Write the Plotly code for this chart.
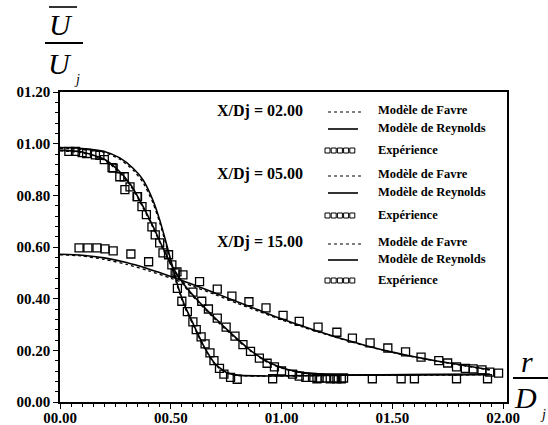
import plotly.graph_objects as go

# ---------------- data ----------------
x_tickvals = [0.0, 0.5, 1.0, 1.5, 2.0]
x_ticktext = ["00.00", "00.50", "01.00", "01.50", "02.00"]
y_tickvals = [0.0, 0.2, 0.4, 0.6, 0.8, 1.0, 1.2]
y_ticktext = ["00.00", "00.20", "00.40", "00.60", "00.80", "01.00", "01.20"]

# X/Dj = 2
rey2_r = [0, 0.1, 0.2, 0.27, 0.33, 0.375, 0.42, 0.45, 0.475, 0.5, 0.53, 0.56, 0.6, 0.65, 0.7, 0.75, 0.8, 0.9, 1.0, 1.3, 1.6, 1.94]
rey2_v = [0.985, 0.981, 0.97, 0.945, 0.905, 0.86, 0.78, 0.705, 0.63, 0.55, 0.455, 0.38, 0.305, 0.215, 0.148, 0.115, 0.104, 0.101, 0.101, 0.104, 0.106, 0.107]
fav2_r = [0, 0.1, 0.2, 0.27, 0.33, 0.375, 0.42, 0.45, 0.475, 0.5, 0.53, 0.56, 0.6, 0.65, 0.7, 0.75, 0.8, 0.9, 1.0, 1.3, 1.6, 1.94]
fav2_v = [0.982, 0.978, 0.966, 0.94, 0.898, 0.85, 0.77, 0.695, 0.62, 0.54, 0.448, 0.372, 0.3, 0.21, 0.145, 0.113, 0.103, 0.1, 0.1, 0.103, 0.105, 0.106]
exp2_r = [0.07, 0.12, 0.18, 0.24, 0.29, 0.35, 0.39, 0.43, 0.465, 0.49, 0.53, 0.55, 0.575, 0.60, 0.615, 0.637, 0.655, 0.677, 0.695, 0.72, 0.74, 0.77, 0.80, 0.96, 1.16, 1.22, 1.25, 1.27, 1.41, 1.54, 1.60, 1.79, 1.93]
exp2_v = [0.97, 0.962, 0.955, 0.905, 0.872, 0.795, 0.725, 0.647, 0.577, 0.57, 0.44, 0.39, 0.35, 0.31, 0.28, 0.252, 0.225, 0.19, 0.16, 0.13, 0.108, 0.095, 0.088, 0.09, 0.09, 0.09, 0.09, 0.09, 0.09, 0.09, 0.09, 0.09, 0.09]

# X/Dj = 5
rey5_r = [0, 0.1, 0.2, 0.26, 0.32, 0.37, 0.42, 0.46, 0.51, 0.56, 0.62, 0.7, 0.78, 0.86, 0.94, 1.02, 1.12, 1.25, 1.5, 1.94]
rey5_v = [0.975, 0.968, 0.94, 0.9, 0.84, 0.765, 0.68, 0.605, 0.52, 0.455, 0.395, 0.325, 0.26, 0.2, 0.155, 0.128, 0.112, 0.105, 0.105, 0.107]
fav5_r = [0, 0.1, 0.2, 0.26, 0.32, 0.37, 0.42, 0.46, 0.51, 0.56, 0.62, 0.7, 0.78, 0.86, 0.94, 1.02, 1.12, 1.25, 1.5, 1.94]
fav5_v = [0.972, 0.965, 0.936, 0.895, 0.835, 0.76, 0.675, 0.6, 0.515, 0.45, 0.39, 0.32, 0.255, 0.197, 0.152, 0.126, 0.11, 0.104, 0.104, 0.106]
exp5_r = [0.04, 0.10, 0.16, 0.20, 0.235, 0.27, 0.293, 0.316, 0.348, 0.37, 0.415, 0.45, 0.505, 0.528, 0.555, 0.60, 0.64, 0.67, 0.71, 0.75, 0.79, 0.826, 0.86, 0.9, 0.935, 0.968, 1.0, 1.05, 1.08, 1.11, 1.14, 1.17, 1.20, 1.24, 1.28]
exp5_v = [0.97, 0.965, 0.957, 0.938, 0.907, 0.872, 0.822, 0.833, 0.795, 0.756, 0.678, 0.616, 0.531, 0.504, 0.492, 0.425, 0.39, 0.36, 0.325, 0.29, 0.255, 0.222, 0.196, 0.17, 0.15, 0.136, 0.12, 0.108, 0.10, 0.095, 0.095, 0.093, 0.093, 0.093, 0.093]

# X/Dj = 15
rey15_r = [0, 0.1, 0.2, 0.3, 0.4, 0.5, 0.6, 0.7, 0.8, 0.9, 1.0, 1.1, 1.2, 1.3, 1.4, 1.5, 1.6, 1.7, 1.8, 1.94]
rey15_v = [0.572, 0.568, 0.558, 0.54, 0.515, 0.486, 0.455, 0.422, 0.388, 0.355, 0.322, 0.292, 0.264, 0.238, 0.214, 0.193, 0.175, 0.159, 0.145, 0.125]
fav15_r = [0, 0.1, 0.2, 0.3, 0.4, 0.5, 0.6, 0.7, 0.8, 0.9, 1.0, 1.1, 1.2, 1.3, 1.4, 1.5, 1.6, 1.7, 1.8, 1.94]
fav15_v = [0.57, 0.565, 0.552, 0.533, 0.508, 0.479, 0.448, 0.416, 0.382, 0.35, 0.318, 0.289, 0.262, 0.236, 0.213, 0.192, 0.174, 0.158, 0.144, 0.124]
exp15_r = [0.086, 0.126, 0.167, 0.203, 0.24, 0.32, 0.40, 0.52, 0.63, 0.71, 0.776, 0.853, 0.93, 1.007, 1.08, 1.165, 1.25, 1.32, 1.40, 1.48, 1.56, 1.63, 1.71, 1.75, 1.79, 1.83, 1.865, 1.905, 1.94, 1.98]
exp15_v = [0.597, 0.597, 0.597, 0.593, 0.585, 0.573, 0.543, 0.50, 0.466, 0.437, 0.41, 0.388, 0.364, 0.335, 0.312, 0.29, 0.27, 0.247, 0.229, 0.209, 0.194, 0.174, 0.16, 0.151, 0.136, 0.13, 0.128, 0.124, 0.116, 0.112]

group_labels = ["X/Dj = 02.00", "X/Dj = 05.00", "X/Dj = 15.00"]
entry_labels = ["Modèle de Favre", "Modèle de Reynolds", "Expérience"]

# ---------------- figure ----------------
W, H = 548, 425
L, R, T, B = 60, 507, 92, 402
SERIF = "Liberation Serif"

def px(x):
    return (x - L) / (R - L)

def py(y):
    return (B - y) / (B - T)

fig = go.Figure()

for rr, vv in [(fav2_r, fav2_v), (fav5_r, fav5_v), (fav15_r, fav15_v)]:
    fig.add_trace(go.Scatter(x=rr, y=vv, mode="lines", line=dict(color="black", width=1.3, dash="dot", shape="spline", smoothing=0.6), showlegend=False, hoverinfo="skip"))
for rr, vv in [(rey2_r, rey2_v), (rey5_r, rey5_v), (rey15_r, rey15_v)]:
    fig.add_trace(go.Scatter(x=rr, y=vv, mode="lines", line=dict(color="black", width=1.6, shape="spline", smoothing=0.6), showlegend=False))
for rr, vv in [(exp2_r, exp2_v), (exp5_r, exp5_v), (exp15_r, exp15_v)]:
    fig.add_trace(go.Scatter(x=rr, y=vv, mode="markers", marker=dict(symbol="square-open", size=8, color="black", line=dict(width=1.3)), showlegend=False))

annotations = []
shapes = []

rows = [(111, 110, 128, 150), (174, 174, 192, 215), (242, 242, 259, 280)]
for lab, (yg, yf, yr, ye) in zip(group_labels, rows):
    annotations.append(dict(x=px(215), y=py(yg), xref="paper", yref="paper", text="<b>%s</b>" % lab, showarrow=False,
                            xanchor="left", yanchor="middle", font=dict(family=SERIF, size=16, color="black")))
    for txt, yy in zip(entry_labels, [yf, yr, ye]):
        annotations.append(dict(x=px(376), y=py(yy), xref="paper", yref="paper", text="<b>%s</b>" % txt, showarrow=False,
                                xanchor="left", yanchor="middle", font=dict(family=SERIF, size=12.5, color="black")))
    shapes.append(dict(type="line", xref="paper", yref="paper", x0=px(328), x1=px(361), y0=py(yf + 2), y1=py(yf + 2),
                       line=dict(color="black", width=1.2, dash="dot")))
    shapes.append(dict(type="line", xref="paper", yref="paper", x0=px(328), x1=px(358), y0=py(yr + 1), y1=py(yr + 1),
                       line=dict(color="black", width=1.6)))
    for k in range(5):
        x0 = 325 + k * 6.2
        shapes.append(dict(type="rect", xref="paper", yref="paper", x0=px(x0), x1=px(x0 + 5), y0=py(ye + 3), y1=py(ye - 2),
                           line=dict(color="black", width=1)))

annotations += [
    dict(x=px(61), y=py(24), xref="paper", yref="paper", text="<i>U</i>", showarrow=False, xanchor="center", yanchor="middle",
         font=dict(family=SERIF, size=30, color="black")),
    dict(x=px(60), y=py(63), xref="paper", yref="paper", text="<i>U</i>", showarrow=False, xanchor="center", yanchor="middle",
         font=dict(family=SERIF, size=30, color="black")),
    dict(x=px(77), y=py(80), xref="paper", yref="paper", text="<i>j</i>", showarrow=False, xanchor="center", yanchor="middle",
         font=dict(family=SERIF, size=14, color="black")),
    dict(x=px(527), y=py(361), xref="paper", yref="paper", text="<i>r</i>", showarrow=False, xanchor="center", yanchor="middle",
         font=dict(family=SERIF, size=30, color="black")),
    dict(x=px(525), y=py(397), xref="paper", yref="paper", text="<i>D</i>", showarrow=False, xanchor="center", yanchor="middle",
         font=dict(family=SERIF, size=30, color="black")),
    dict(x=px(543), y=py(414), xref="paper", yref="paper", text="<i>j</i>", showarrow=False, xanchor="center", yanchor="middle",
         font=dict(family=SERIF, size=14, color="black")),
]
shapes += [
    dict(type="line", xref="paper", yref="paper", x0=px(49), x1=px(77), y0=py(7), y1=py(7), line=dict(color="black", width=1.6)),
    dict(type="line", xref="paper", yref="paper", x0=px(45), x1=px(83), y0=py(43), y1=py(43), line=dict(color="black", width=2)),
    dict(type="line", xref="paper", yref="paper", x0=px(513), x1=px(548), y0=py(378), y1=py(378), line=dict(color="black", width=2)),
]

fig.update_layout(
    width=W, height=H,
    margin=dict(l=L, r=W - R, t=T, b=H - B, autoexpand=False),
    paper_bgcolor="white", plot_bgcolor="white",
    showlegend=False,
    annotations=annotations, shapes=shapes,
    font=dict(family=SERIF, color="black"),
)
fig.update_xaxes(range=[0, 2.018], tickvals=x_tickvals, ticktext=["<b>%s</b>" % t for t in x_ticktext], showgrid=False, zeroline=False,
                 automargin=False, ticklabelstandoff=-4,
                 showline=True, linecolor="black", linewidth=1.5, mirror=True, ticks="outside", ticklen=5, tickwidth=1.2,
                 tickcolor="black", tickfont=dict(family=SERIF, size=15, color="black"),
                 minor=dict(dtick=0.05, ticks="outside", ticklen=3, tickwidth=1, tickcolor="black"))
fig.update_yaxes(range=[0, 1.2], tickvals=y_tickvals, ticktext=["<b>%s</b>" % t for t in y_ticktext], showgrid=False, zeroline=False,
                 automargin=False,
                 showline=True, linecolor="black", linewidth=1.5, mirror=True, ticks="outside", ticklen=5, tickwidth=1.2,
                 tickcolor="black", tickfont=dict(family=SERIF, size=15, color="black"),
                 minor=dict(dtick=0.04, ticks="outside", ticklen=3, tickwidth=1, tickcolor="black"))

fig.write_html("out.html")
